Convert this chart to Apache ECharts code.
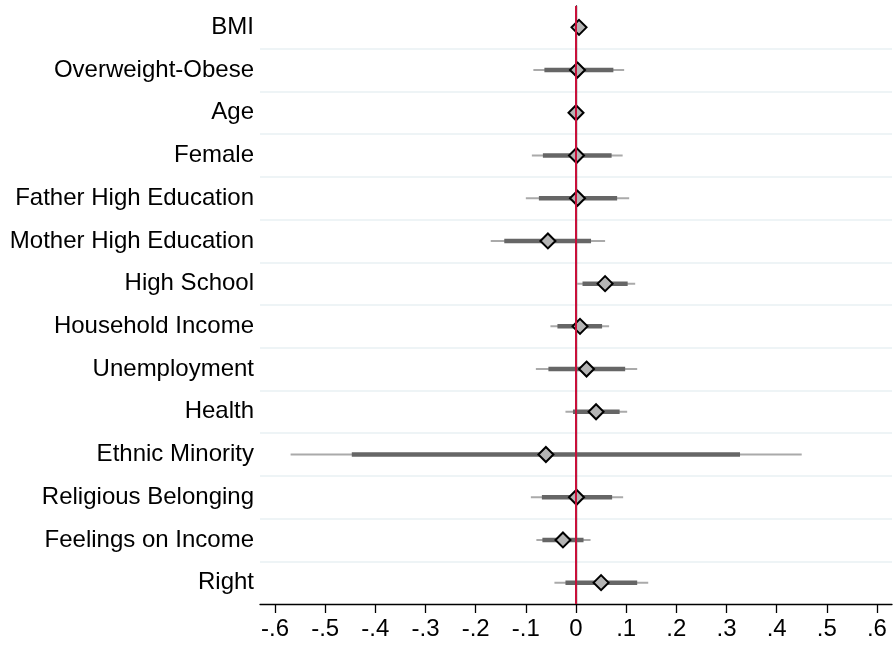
<!DOCTYPE html>
<html>
<head>
<meta charset="utf-8">
<script src="https://cdn.jsdelivr.net/npm/echarts@6/dist/echarts.min.js"></script>
<style>
html,body{margin:0;padding:0;background:#fff;}
#chart{width:893px;height:646px;}
</style>
</head>
<body>
<div id="chart"></div>
<script>
const categories = ['BMI', 'Overweight-Obese', 'Age', 'Female', 'Father High Education', 'Mother High Education', 'High School', 'Household Income', 'Unemployment', 'Health', 'Ethnic Minority', 'Religious Belonging', 'Feelings on Income', 'Right'];
const estimate    = [0.006, 0.003, 0.000, 0.001, 0.003, -0.056, 0.058, 0.008, 0.021, 0.040, -0.060, 0.001, -0.026, 0.050];
const outerLow    = [0.004, -0.085, -0.002, -0.088, -0.100, -0.170, -0.001, -0.051, -0.080, -0.021, -0.569, -0.090, -0.079, -0.043];
const outerHigh   = [0.008, 0.096, 0.002, 0.093, 0.106, 0.058, 0.118, 0.066, 0.122, 0.102, 0.450, 0.094, 0.029, 0.144];
const innerLow    = [0.005, -0.063, -0.001, -0.066, -0.074, -0.143, 0.013, -0.037, -0.055, -0.006, -0.447, -0.068, -0.067, -0.021];
const innerHigh   = [0.007, 0.0745, 0.001, 0.071, 0.082, 0.030, 0.103, 0.052, 0.098, 0.087, 0.327, 0.072, 0.015, 0.122];
const xTicks      = [-0.6, -0.5, -0.4, -0.3, -0.2, -0.1, 0, 0.1, 0.2, 0.3, 0.4, 0.5, 0.6];

const FONT = 'Liberation Sans';
const chart = echarts.init(document.getElementById('chart'), null, {renderer: 'canvas'});

function fmt(v) {
  const r = Math.round(v * 10) / 10;
  if (r === 0) return '0';
  let s = r.toFixed(1);
  return s.replace('0.', '.');
}

function ciSeries(lo, hi, color, width, z) {
  return {
    type: 'custom',
    z: z,
    silent: true,
    data: categories.map((c, i) => [lo[i], hi[i], i]),
    encode: {x: [0, 1], y: 2},
    renderItem: function (params, api) {
      const p1 = api.coord([api.value(0), api.value(2)]);
      const p2 = api.coord([api.value(1), api.value(2)]);
      return {
        type: 'line',
        shape: {x1: p1[0], y1: p1[1], x2: p2[0], y2: p2[1]},
        style: {stroke: color, lineWidth: width, lineCap: 'butt'}
      };
    }
  };
}

const option = {
  animation: false,
  backgroundColor: '#ffffff',
  grid: {left: 260, right: 1, top: 6, bottom: 42, containLabel: false},
  xAxis: {
    type: 'value',
    min: -0.63,
    max: 0.63,
    axisLine: {show: true, lineStyle: {color: '#000', width: 1.3}},
    axisTick: {show: true, length: 9, customValues: xTicks, lineStyle: {color: '#000', width: 1.3}},
    axisLabel: {customValues: xTicks, formatter: fmt, fontFamily: FONT, fontSize: 24, color: '#000', margin: 13},
    splitLine: {show: false}
  },
  yAxis: {
    type: 'category',
    data: categories,
    inverse: true,
    axisLine: {show: true, lineStyle: {color: '#000', width: 1.3}},
    axisTick: {show: false},
    axisLabel: {fontFamily: FONT, fontSize: 24, color: '#000', margin: 6},
    splitLine: {show: true, showMinLine: false, showMaxLine: false, lineStyle: {color: '#e9f1f3', width: 1.5}}
  },
  series: [
    ciSeries(outerLow, outerHigh, '#aaaaaa', 2, 2),
    ciSeries(innerLow, innerHigh, '#666666', 4.5, 2),
    {
      type: 'line',
      z: 3,
      data: [],
      markLine: {
        silent: true,
        symbol: 'none',
        label: {show: false},
        lineStyle: {color: '#c8103a', width: 2, type: 'solid'},
        data: [{xAxis: 0}]
      }
    },
    {
      type: 'scatter',
      z: 4,
      symbol: 'diamond',
      symbolSize: [15, 15],
      data: categories.map((c, i) => [estimate[i], i]),
      itemStyle: {color: '#b4b4b4', borderColor: '#000', borderWidth: 2, opacity: 1}
    }
  ]
};
chart.setOption(option);
</script>
</body>
</html>
